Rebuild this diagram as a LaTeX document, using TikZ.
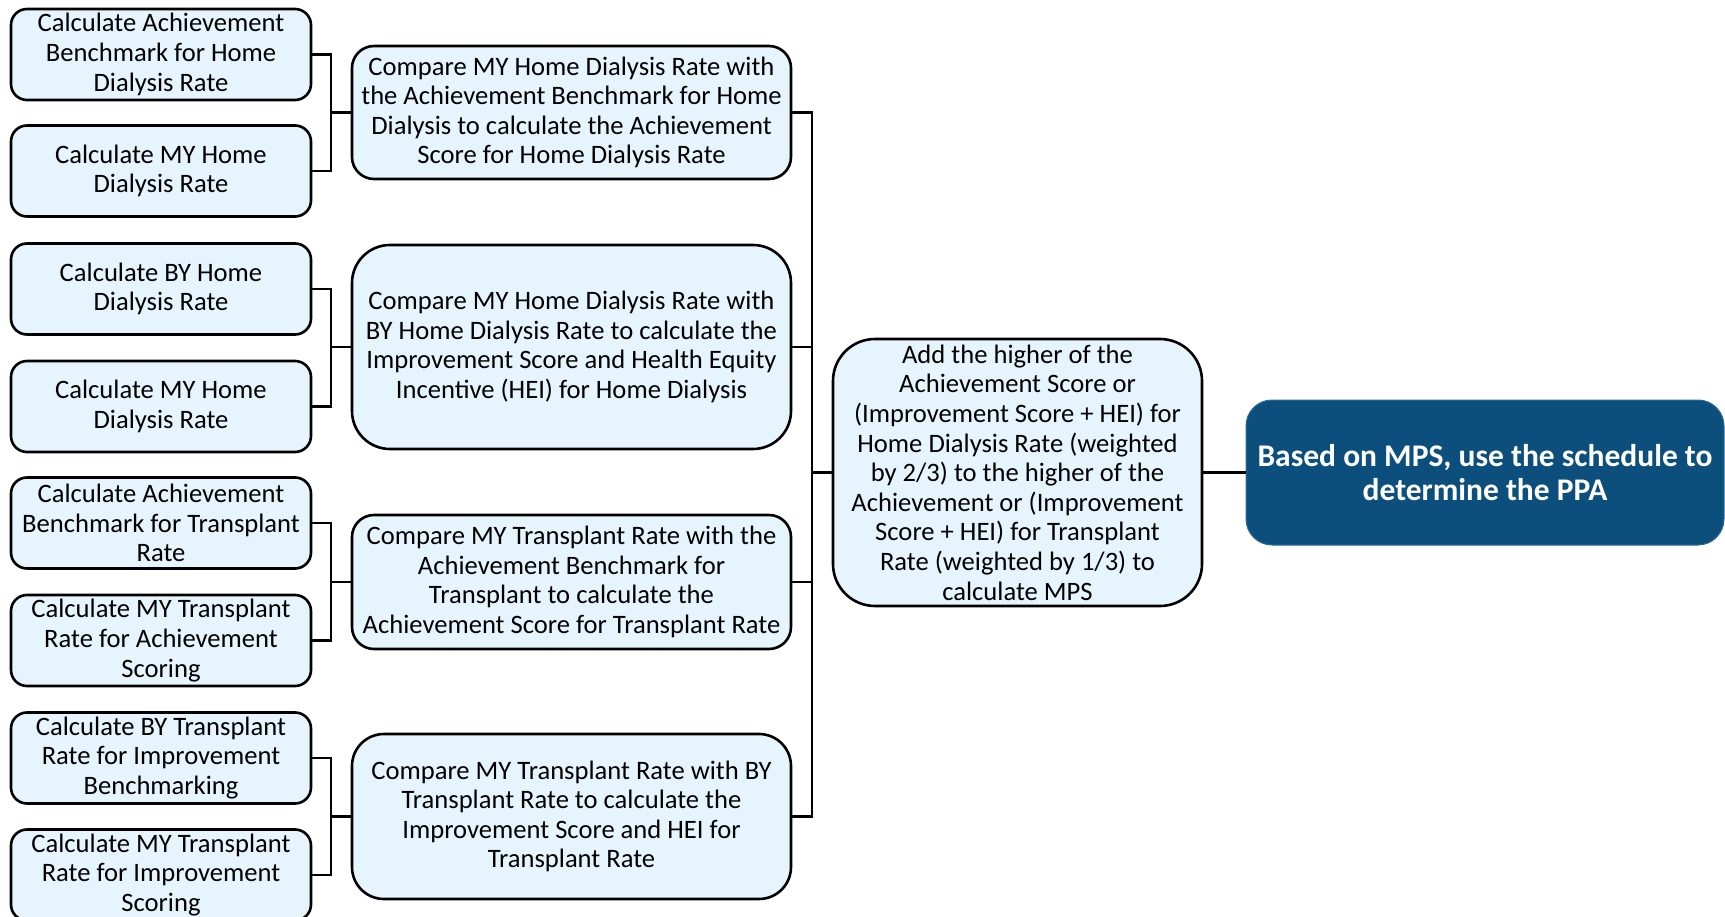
\documentclass[tikz,border=0pt]{standalone}
\usepackage{fontspec}
\setmainfont{Carlito}
\definecolor{boxfill}{HTML}{E6F5FD}
\definecolor{darkfill}{HTML}{0C4F7C}
\definecolor{darkedge}{HTML}{2E6C96}
\begin{document}
\begin{tikzpicture}[x=1pt,y=-1pt,
  base/.style={draw=black, line width=2.6pt, fill=boxfill, align=center, inner sep=0pt,
     font=\fontsize{26.6}{29.6}\selectfont},
  leftbox/.style={base, rounded corners=16pt, minimum width=300pt, minimum height=91pt},
  midbox/.style={base, minimum width=439pt},
  bigbox/.style={base, rounded corners=42pt, minimum width=369pt, minimum height=267pt},
  darkbox/.style={draw=darkedge, line width=1pt, fill=darkfill, text=white, align=center,
     rounded corners=26pt, minimum width=478pt, minimum height=145pt, inner sep=0pt,
     font=\fontsize{31.5}{33.5}\selectfont\bfseries},
  conn/.style={draw=black, line width=2.4pt}
]
\useasboundingbox (0,0) rectangle (1725,917);

% left column
\node[leftbox] (l1) at (161,54.5) {Calculate Achievement\\Benchmark for Home\\Dialysis Rate};
\node[leftbox] (l2) at (161,171) {Calculate MY Home\\Dialysis Rate};
\node[leftbox] (l3) at (161,289) {Calculate BY Home\\Dialysis Rate};
\node[leftbox] (l4) at (161,406.5) {Calculate MY Home\\Dialysis Rate};
\node[leftbox] (l5) at (161,523) {Calculate Achievement\\Benchmark for Transplant\\Rate};
\node[leftbox] (l6) at (161,640.5) {Calculate MY Transplant\\Rate for Achievement\\Scoring};
\node[leftbox] (l7) at (161,758) {Calculate BY Transplant\\Rate for Improvement\\Benchmarking};
\node[leftbox] (l8) at (161,875) {Calculate MY Transplant\\Rate for Improvement\\Scoring};

% middle column
\node[midbox, rounded corners=22pt, minimum height=133pt] (m1) at (571.5,112.5)
  {Compare MY Home Dialysis Rate with\\the Achievement Benchmark for Home\\Dialysis to calculate the Achievement\\Score for Home Dialysis Rate};
\node[midbox, rounded corners=38pt, minimum height=204pt] (m2) at (571.5,347)
  {Compare MY Home Dialysis Rate with\\BY Home Dialysis Rate to calculate the\\Improvement Score and Health Equity\\Incentive (HEI) for Home Dialysis};
\node[midbox, rounded corners=22pt, minimum height=134pt] (m3) at (571.5,582)
  {Compare MY Transplant Rate with the\\Achievement Benchmark for\\Transplant to calculate the\\Achievement Score for Transplant Rate};
\node[midbox, rounded corners=32pt, minimum height=165pt] (m4) at (571.5,816.5)
  {Compare MY Transplant Rate with BY\\Transplant Rate to calculate the\\Improvement Score and HEI for\\Transplant Rate};

% big box
\node[bigbox] (big) at (1017.5,472.5)
  {Add the higher of the\\Achievement Score or\\(Improvement Score + HEI) for\\Home Dialysis Rate (weighted\\by 2/3) to the higher of the\\Achievement or (Improvement\\Score + HEI) for Transplant\\Rate (weighted by 1/3) to\\calculate MPS};

% dark box
\node[darkbox] (dark) at (1485,472.5) {Based on MPS, use the schedule to\\determine the PPA};

% junctions
\coordinate (j1) at (331,112.5);
\coordinate (j2) at (331,347);
\coordinate (j3) at (331,582);
\coordinate (j4) at (331,816.5);
\coordinate (r) at (812,472.5);

% connectors left
\draw[conn] (l1.east) -| (j1) |- (l2.east);
\draw[conn] (j1) -- (m1.west);
\draw[conn] (l3.east) -| (j2) |- (l4.east);
\draw[conn] (j2) -- (m2.west);
\draw[conn] (l5.east) -| (j3) |- (l6.east);
\draw[conn] (j3) -- (m3.west);
\draw[conn] (l7.east) -| (j4) |- (l8.east);
\draw[conn] (j4) -- (m4.west);

% connectors right
\draw[conn] (m1.east) -| (r) |- (m4.east);
\draw[conn] (m2.east) -| (r);
\draw[conn] (m3.east) -| (r);
\draw[conn] (r) -- (big.west);
\draw[conn] (big.east) -- (dark.west);
\end{tikzpicture}
\end{document}
